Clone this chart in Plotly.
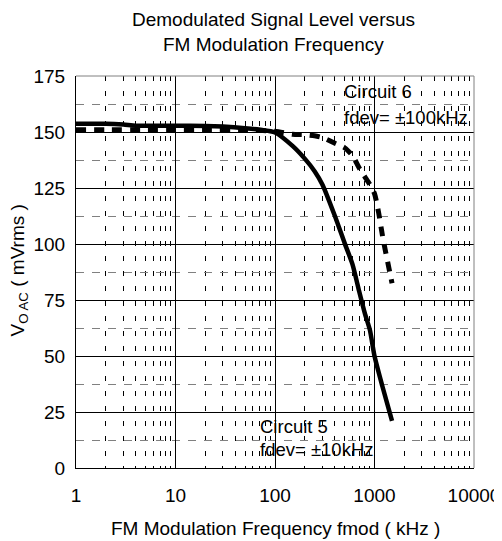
import plotly.graph_objects as go

# Circuit 5 (fdev = ±10kHz) - solid line
freq_c5 = [1, 2, 3, 4, 10, 20, 30, 50, 70, 100, 150, 200, 250, 300, 400, 500, 600, 700, 800, 900, 1000, 1200, 1500]
vo_c5 = [153.7, 153.7, 153.3, 152.8, 152.8, 152.7, 152.4, 151.7, 151.0, 149.8, 143.8, 138.0, 132.5, 126.5, 112.5,
         100.5, 91.0, 79.0, 69.0, 61.5, 50.0, 36.5, 21.0]

# Circuit 6 (fdev = ±100kHz) - dashed line
freq_c6 = [1, 2, 5, 10, 20, 50, 100, 150, 200, 250, 300, 400, 500, 600, 700, 800, 900, 1000, 1100, 1200, 1300, 1400, 1500]
vo_c6 = [151.0, 151.0, 151.0, 151.0, 151.0, 151.0, 150.3, 149.0, 148.8, 148.3, 147.5, 145.0, 143.0, 139.5,
         134.0, 130.0, 126.5, 122.5, 114.0, 104.0, 96.0, 89.0, 82.5]

x_tickvals = [1, 10, 100, 1000, 10000]
x_ticktext = ["1", "10", "100", "1000", "10000"]
y_tickvals = [0, 25, 50, 75, 100, 125, 150, 175]

FONT = "Arial, Liberation Sans, sans-serif"
FS = 19

fig = go.Figure()
fig.add_trace(go.Scatter(x=freq_c5, y=vo_c5, mode="lines", name="Circuit 5",
                         line=dict(color="black", width=4.5, shape="spline", smoothing=0.6), showlegend=False))
fig.add_trace(go.Scatter(x=freq_c6, y=vo_c6, mode="lines", name="Circuit 6",
                         line=dict(color="black", width=5, dash="10px,8px", shape="spline", smoothing=0.6),
                         showlegend=False))

# white label boxes (cover gridlines, below traces)
fig.add_shape(type="rect", xref="paper", yref="paper", x0=0.656, x1=1.0, y0=0.857, y1=1.0,
              fillcolor="white", line=dict(width=0), layer="between")
fig.add_shape(type="rect", xref="paper", yref="paper", x0=0.445, x1=0.751, y0=0.0, y1=0.140,
              fillcolor="white", line=dict(width=0), layer="between")
# top / right frame lines (gray)
fig.add_shape(type="line", xref="paper", yref="paper", x0=0, x1=1, y0=1, y1=1,
              line=dict(color="#808080", width=1), layer="above")
fig.add_shape(type="line", xref="paper", yref="paper", x0=1, x1=1, y0=0, y1=1,
              line=dict(color="#808080", width=1), layer="above")

ann_font = dict(family=FONT, size=18.5, color="black")
for txt, x, y in [("Circuit 6", 0.668, 0.960), ("fdev= ±100kHz", 0.668, 0.895),
                  ("Circuit 5", 0.457, 0.106), ("fdev= ±10kHz", 0.457, 0.048)]:
    fig.add_annotation(text=txt, xref="paper", yref="paper", x=x, y=y, xanchor="left", yanchor="middle",
                       showarrow=False, font=ann_font)

txt_font = dict(family=FONT, size=FS, color="black")
# chart title (two lines)
fig.add_annotation(text="Demodulated Signal Level versus", xref="paper", yref="paper",
                   x=(273 - 76) / 398, y=1.144, xanchor="center", yanchor="middle",
                   showarrow=False, font=txt_font)
fig.add_annotation(text="FM Modulation Frequency", xref="paper", yref="paper",
                   x=(273 - 76) / 398, y=1.081, xanchor="center", yanchor="middle",
                   showarrow=False, font=txt_font)
# axis titles
fig.add_annotation(text="FM Modulation Frequency fmod ( kHz )", xref="paper", yref="paper",
                   x=0.501, y=-0.154, xanchor="center", yanchor="middle",
                   showarrow=False, font=txt_font)
fig.add_annotation(text="V<sub>O AC</sub> ( mVrms )", xref="paper", yref="paper",
                   x=-0.142, y=0.505, xanchor="center", yanchor="middle", textangle=-90,
                   showarrow=False, font=txt_font)

# page body has an 8px margin: figure is 494x533, placed at (8, 8)
fig.update_layout(
    width=494, height=533,
    margin=dict(l=68, r=28, t=68, b=73, autoexpand=False),
    paper_bgcolor="white", plot_bgcolor="white",
    font=dict(family=FONT, size=FS, color="black"),
    showlegend=False,
)
fig.update_xaxes(
    type="log", range=[0, 4], tickvals=x_tickvals, ticktext=x_ticktext, automargin=False,
    showgrid=True, gridcolor="black", gridwidth=1,
    minor=dict(dtick="D1", showgrid=True, gridcolor="black", gridwidth=1, griddash="5px,10px", ticks=""),
    showline=True, linecolor="black", linewidth=1, ticks="", zeroline=False,
    ticklabelstandoff=10,
    tickfont=dict(family=FONT, size=FS, color="black"),
)
fig.update_yaxes(
    range=[0, 175], tickvals=y_tickvals, automargin=False,
    showgrid=True, gridcolor="black", gridwidth=1,
    minor=dict(tick0=0, dtick=12.5, showgrid=True, gridcolor="#808080", gridwidth=1, griddash="8px,8px", ticks=""),
    showline=True, linecolor="black", linewidth=1, ticks="", zeroline=False,
    ticklabelstandoff=6,
    tickfont=dict(family=FONT, size=FS, color="black"),
)

fig.write_html("out.html")
